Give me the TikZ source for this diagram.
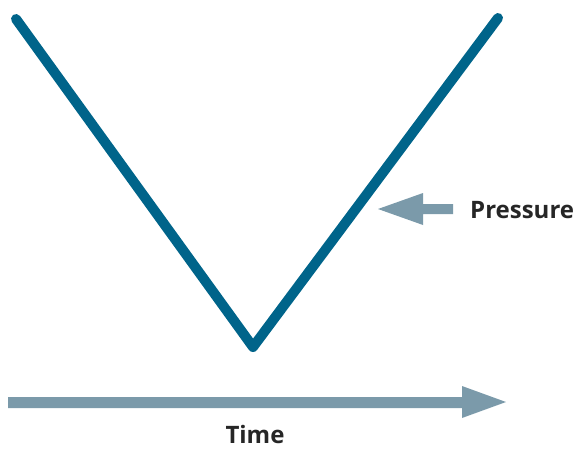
\documentclass[tikz,border=0pt]{standalone}
\usepackage{fontspec}
\setmainfont{Open Sans}
\definecolor{vblue}{HTML}{00648A}
\definecolor{arrgray}{HTML}{7B9AAA}
\begin{document}
\begin{tikzpicture}[x=1pt,y=-1pt,
  vline/.style={draw=vblue,line width=10pt,line cap=round,line join=round},
  fatarrow/.style={fill=arrgray,draw=none},
  lbl/.style={font=\fontsize{24}{27}\selectfont\bfseries,text=black!85,inner sep=0pt}]
\useasboundingbox (0,0) rectangle (577,448);
\coordinate (tl) at (16,19);
\coordinate (bot) at (253,347);
\coordinate (tr) at (498,18);
\draw[vline] (tl) -- (bot) -- (tr);
% Time arrow
\fill[fatarrow] (8,397) -- (462,397) -- (462,386) -- (506,402) -- (462,418) -- (462,408) -- (8,408) -- cycle;
\node[lbl,anchor=base] (time) at (255,443) {Time};
% Pressure arrow
\fill[fatarrow] (453,204) -- (423,204) -- (423,193) -- (378,209) -- (423,225) -- (423,214) -- (453,214) -- cycle;
\node[lbl,anchor=west] (pres) at (470,210) {Pressure};
\end{tikzpicture}
\end{document}
